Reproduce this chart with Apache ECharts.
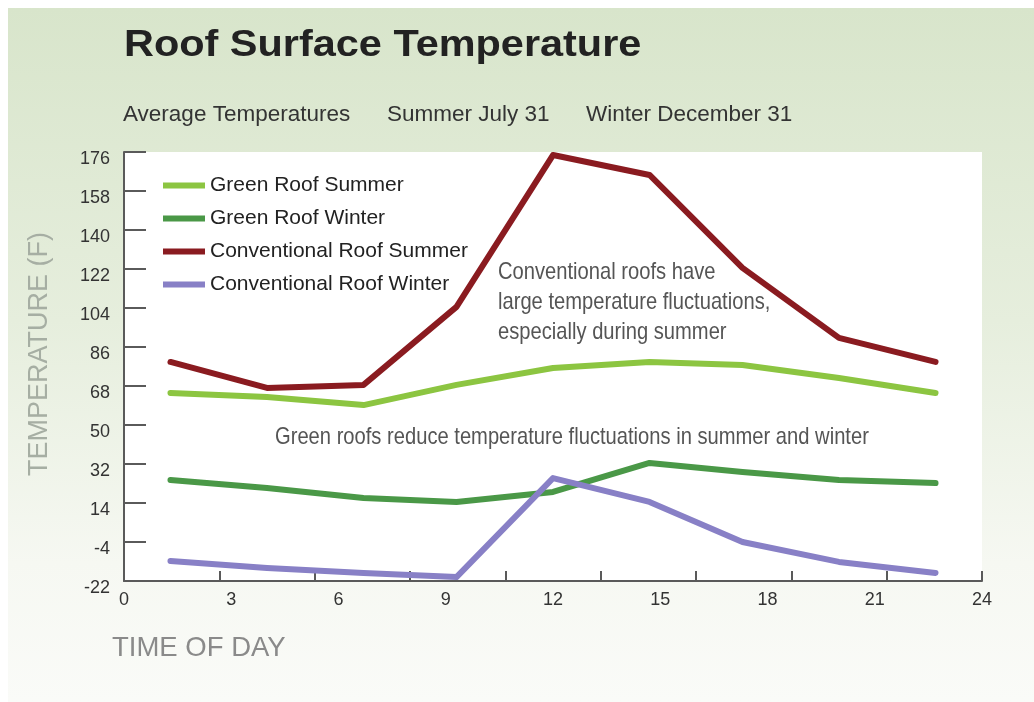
<!DOCTYPE html>
<html><head><meta charset="utf-8">
<script src="https://cdn.jsdelivr.net/npm/echarts@6/dist/echarts.min.js"></script>
<style>
html,body{margin:0;padding:0;background:#fff;}
#bg{position:absolute;left:8px;top:8px;width:1026px;height:694px;background:linear-gradient(to bottom,#d8e5cb 0%,#e6eedd 45%,#f6f8f2 80%,#fafbf8 100%);}
#c{position:absolute;left:0;top:0;width:1034px;height:702px;}
</style>
</head><body><div id="bg"></div><div id="c"></div>
<script>
// Time of day (hours) at which each reading was taken
const hours = [1.3, 4, 6.7, 9.3, 12, 14.7, 17.3, 20, 22.7];
const greenRoofSummer = [64.8, 62.9, 59.2, 68.5, 76.3, 79.1, 77.7, 71.7, 64.8];
const greenRoofWinter = [24.6, 20.9, 16.3, 14.5, 19.1, 32.5, 28.3, 24.6, 23.2];
const convRoofSummer = [79.1, 67.1, 68.5, 104.5, 174.6, 165.4, 122.5, 90.2, 79.1];
const convRoofWinter = [-12.8, -16.0, -18.3, -20.2, 25.5, 14.5, -4.0, -13.2, -18.3];
const yTickValues = [-22, -4, 14, 32, 50, 68, 86, 104, 122, 140, 158, 176];
const xLabelValues = [0, 3, 6, 9, 12, 15, 18, 21, 24];
const xTickMarks = [0, 2.67, 5.33, 8, 10.67, 13.33, 16, 18.67, 21.33, 24];
const seriesNames = ['Green Roof Summer', 'Green Roof Winter', 'Conventional Roof Summer', 'Conventional Roof Winter'];
const seriesColors = ['#8cc541', '#4a9847', '#8a1b20', '#8880c6'];
const seriesValues = [greenRoofSummer, greenRoofWinter, convRoofSummer, convRoofWinter];

const FONT = 'Liberation Sans, Arial, sans-serif';

const chart = echarts.init(document.getElementById('c'), null, {renderer: 'canvas'});
const series = seriesNames.map((n, i) => ({
  name: n, type: 'line', symbol: 'none', silent: true,
  data: hours.map((h, j) => [h, seriesValues[i][j]]),
  lineStyle: {width: 6, color: seriesColors[i], cap: 'round', join: 'round'},
  itemStyle: {color: seriesColors[i]},
  z: 3
}));
chart.setOption({
  animation: false,
  backgroundColor: 'transparent',
  grid: {left: 124, right: 52, top: 152, bottom: 121, show: true, backgroundColor: '#ffffff', borderWidth: 0},
  legend: {
    orient: 'vertical', left: 163, top: 174, padding: 0, itemWidth: 42, itemHeight: 6, icon: 'rect', itemGap: 10,
    selectedMode: false,
    textStyle: {fontSize: 21, color: '#222', fontFamily: FONT, lineHeight: 23},
    data: seriesNames
  },
  xAxis: {
    type: 'value', min: 0, max: 24,
    axisLine: {show: true, onZero: false, lineStyle: {color: '#5a5a5a', width: 2}},
    axisTick: {show: true, inside: true, length: 10, lineStyle: {color: '#5a5a5a', width: 2}, customValues: xTickMarks},
    axisLabel: {customValues: xLabelValues, fontSize: 18, color: '#333', fontFamily: FONT, margin: 10},
    splitLine: {show: false}
  },
  yAxis: {
    type: 'value', min: -22, max: 176,
    axisLine: {show: true, onZero: false, lineStyle: {color: '#5a5a5a', width: 2}},
    axisTick: {show: true, inside: true, length: 22, lineStyle: {color: '#5a5a5a', width: 2}, customValues: yTickValues},
    axisLabel: {customValues: yTickValues, fontSize: 18, color: '#333', fontFamily: FONT, margin: 14, verticalAlign: 'top', lineHeight: 15},
    splitLine: {show: false}
  },
  graphic: [
    {type: 'text', x: 124, y: 46, scaleX: 1.12, style: {text: 'Roof Surface Temperature', font: 'bold 37px ' + FONT, fill: '#222', verticalAlign: 'middle'}},
    {type: 'text', left: 123, top: 103, style: {text: 'Average Temperatures', font: '22.5px ' + FONT, fill: '#333'}},
    {type: 'text', left: 387, top: 103, style: {text: 'Summer July 31', font: '22.5px ' + FONT, fill: '#333'}},
    {type: 'text', left: 586, top: 103, style: {text: 'Winter December 31', font: '22.5px ' + FONT, fill: '#333'}},
    {type: 'text', x: 498, y: 257, scaleX: 0.84, style: {text: 'Conventional roofs have\nlarge temperature fluctuations,\nespecially during summer', font: '24px ' + FONT, fill: '#555', lineHeight: 30}},
    {type: 'text', x: 275, y: 425, scaleX: 0.84, style: {text: 'Green roofs reduce temperature fluctuations in summer and winter', font: '24px ' + FONT, fill: '#555'}},
    {type: 'text', left: 112, top: 634, style: {text: 'TIME OF DAY', font: '27.5px ' + FONT, fill: '#8a8a8a'}},
    {type: 'text', x: 40, y: 354, rotation: Math.PI / 2, style: {text: 'TEMPERATURE (F)', font: '27px ' + FONT, fill: '#a6aea3', align: 'center', verticalAlign: 'middle'}}
  ],
  series: series
});
</script>
</body></html>
